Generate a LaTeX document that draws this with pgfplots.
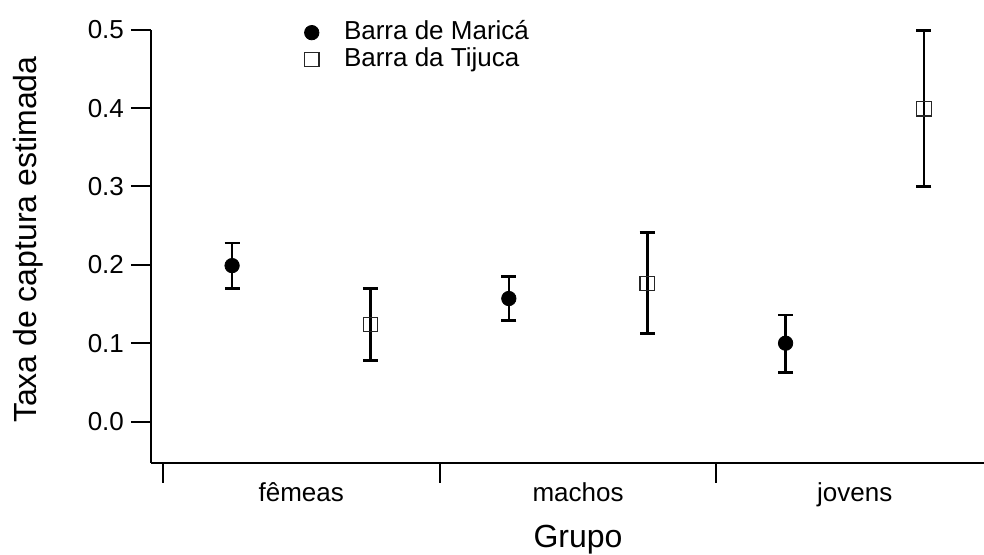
\documentclass[border=0pt]{standalone}
\usepackage{fontspec}
\setmainfont{Liberation Sans}
\usepackage{pgfplots}
\pgfplotsset{compat=1.18}
\begin{document}
\begin{tikzpicture}
\begin{axis}[
  scale only axis, width=416.5pt, height=216.5pt,
  xmin=0.457, xmax=3.467, ymin=-0.0525, ymax=0.5,
  axis lines*=left,
  axis line style={line width=1pt},
  /pgf/number format/assume math mode=true,
  xtick={1,2,3}, xticklabels={fêmeas,machos,jovens},
  minor xtick={0.5,1.5,2.5,3.5},
  major x tick style={draw=none},
  minor x tick style={line width=1pt, black},
  minor tick length=10pt,
  major tick length=10pt,
  tick align=outside,
  ytick={0,0.1,0.2,0.3,0.4,0.5},
  yticklabels={0.0,0.1,0.2,0.3,0.4,0.5},
  y tick style={line width=1pt, black},
  tick label style={font=\fontsize{13}{15}\selectfont},
  x tick label style={anchor=base, yshift=-9.25pt},
  ylabel={Taxa de captura estimada},
  ylabel style={font=\fontsize{16}{19}\selectfont, at={(axis description cs:-0.138,0.515)}, anchor=base},
  xlabel={Grupo},
  xlabel style={font=\fontsize{16}{19}\selectfont, at={(axis description cs:0.5126,-0.196)}, anchor=base},
  legend style={draw=none, fill=none, inner sep=0pt, at={(axis description cs:0.167,0.962)}, anchor=west,
    font=\fontsize{13}{15}\selectfont, nodes={inner sep=1pt, text height=9.25pt, text depth=2.25pt}},
  legend cell align=left,
  legend image code/.code={\path (0pt,0pt) (24.5pt,0pt);\draw[mark repeat=2,mark phase=2,#1] plot coordinates {(0pt,0pt)(10pt,0pt)(24.5pt,0pt)};},
]
\addplot[only marks, black, line width=1.25pt, mark=*, mark size=3.6pt, mark options={line width=0.4pt},
  error bars/.cd, y dir=both, y explicit,
  error bar style={line width=1.25pt, black},
  error mark options={rotate=90, mark size=3.75pt, line width=1.25pt, black}]
  coordinates {
  (0.75,0.199) += (0,0.029) -= (0,0.029)
  (1.75,0.157) += (0,0.028) -= (0,0.028)
  (2.75,0.100) += (0,0.036) -= (0,0.0375)
  };
\addlegendentry{Barra de Maricá}
\addplot[only marks, black, line width=1.25pt, mark=square, mark size=3.6pt, mark options={line width=0.6pt, draw=black!85, fill=none},
  error bars/.cd, y dir=both, y explicit,
  error bar style={line width=1.35pt, black},
  error mark options={rotate=90, mark size=3.75pt, line width=1.35pt, black}]
  coordinates {
  (1.25,0.124) += (0,0.046) -= (0,0.046)
  (2.25,0.176) += (0,0.065) -= (0,0.064)
  (3.25,0.399) += (0,0.100) -= (0,0.099)
  };
\addlegendentry{Barra da Tijuca}
\end{axis}
\pgfresetboundingbox
\path[use as bounding box] ([shift={(-75.5pt,-46pt)}]current axis.south west) rectangle ([shift={(0pt,14.85pt)}]current axis.north east);
\end{tikzpicture}
\end{document}
